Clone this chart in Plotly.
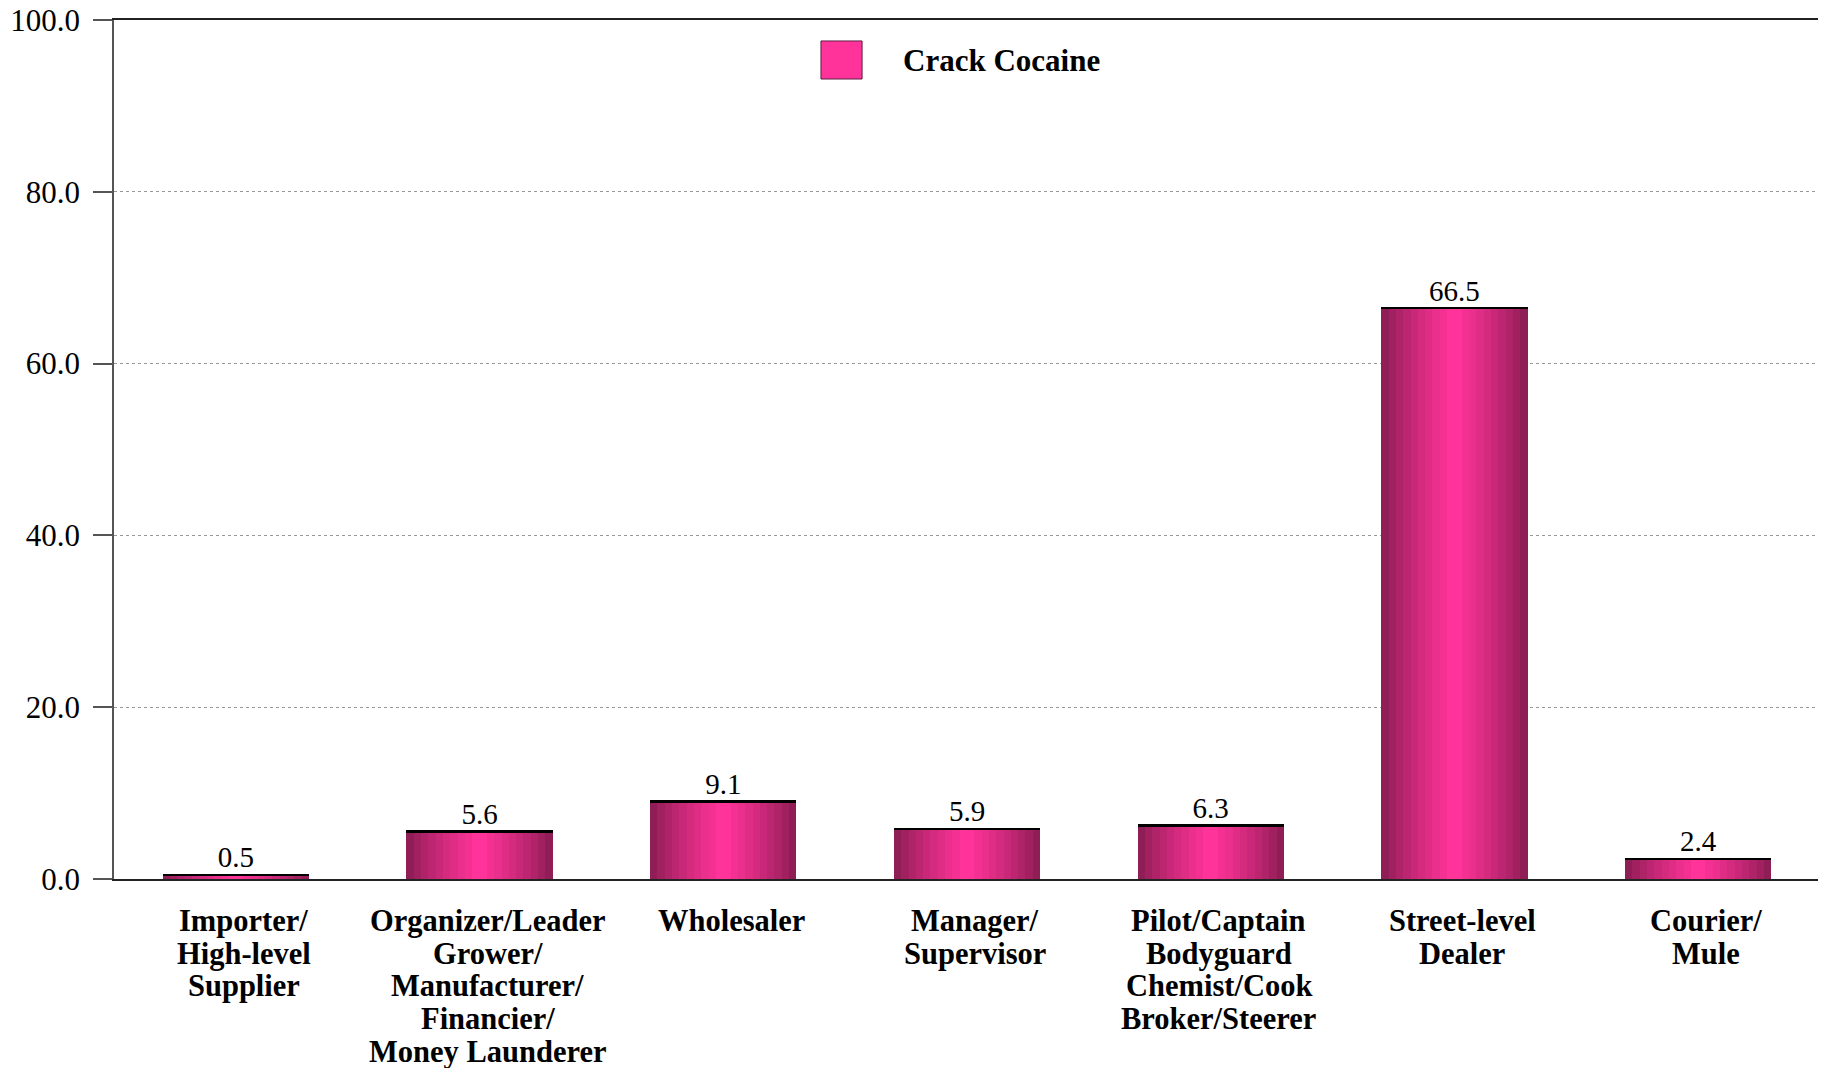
import plotly.graph_objects as go

categories = ["Importer/<br>High-level<br>Supplier",
              "Organizer/Leader<br>Grower/<br>Manufacturer/<br>Financier/<br>Money Launderer",
              "Wholesaler",
              "Manager/<br>Supervisor",
              "Pilot/Captain<br>Bodyguard<br>Chemist/Cook<br>Broker/Steerer",
              "Street-level<br>Dealer",
              "Courier/<br>Mule"]
values = [0.5, 5.6, 9.1, 5.9, 6.3, 66.5, 2.4]
series_name = "Crack Cocaine"
y_ticks = [0, 20, 40, 60, 80, 100]

xs = list(range(len(categories)))

fig = go.Figure()

# cylinder-like banded shading via overlaid bars
n_bands = 10
dark = (0x8E, 0x1E, 0x55)
bright = (0xFF, 0x33, 0x99)
full_w = 0.6
for i in range(n_bands):
    t = i / (n_bands - 1)
    t = t ** 0.8
    c = tuple(int(dark[k] + (bright[k] - dark[k]) * t) for k in range(3))
    w = full_w * (1 - i / n_bands)
    fig.add_trace(go.Bar(x=xs, y=values, width=w, marker=dict(color="rgb(%d,%d,%d)" % c, line=dict(width=0)),
                         showlegend=False, hoverinfo="skip"))

# black top edge
fig.add_trace(go.Bar(x=xs, y=[0.25] * len(values), base=[v - 0.2 for v in values], width=full_w,
                     marker=dict(color="black", line=dict(width=0)), showlegend=False, hoverinfo="skip"))

# value labels
fig.add_trace(go.Scatter(x=xs, y=values, mode="text", text=["%.1f" % v for v in values],
                         textposition="top center",
                         textfont=dict(family="Liberation Serif", size=29, color="black"),
                         showlegend=False, hoverinfo="skip"))

# category labels, one annotation per line for tight line spacing
for xi, cat in zip(xs, categories):
    for j, line in enumerate(cat.split("<br>")):
        fig.add_annotation(x=xi, y=0, xref="x", yref="paper", text="<b>%s</b>" % line,
                           showarrow=False, yanchor="top", xanchor="center",
                           yshift=-23 - 32.7 * j, xshift=8,
                           font=dict(family="Liberation Serif", size=30.5, color="black"))

# custom legend
fig.add_shape(type="rect", xref="paper", yref="paper", x0=0.4144, x1=0.4385, y0=0.9313, y1=0.9756,
              fillcolor="#FF3399", line=dict(color="#5a2040", width=1))
fig.add_annotation(x=0.4613, y=0.9523, xref="paper", yref="paper", text="<b>%s</b>" % series_name,
                   showarrow=False, xanchor="left", yanchor="middle",
                   font=dict(family="Liberation Serif", size=31, color="black"))

fig.update_layout(
    width=1818, height=1060,
    margin=dict(l=106, r=6, t=12, b=189, autoexpand=False),
    paper_bgcolor="white", plot_bgcolor="white",
    barmode="overlay", bargap=0,
    showlegend=False,
    xaxis=dict(range=[-0.5, len(categories) - 0.5], showticklabels=False, ticks="", automargin=False,
               showgrid=False, zeroline=False, showline=True, linecolor="#222", linewidth=1.5, mirror=True),
    yaxis=dict(range=[0, 100], tickvals=y_ticks, tickformat=".1f", ticks="outside", ticklen=19,
               tickcolor="#555", tickwidth=1.5, ticklabelstandoff=7, ticklabeloverflow="allow",
               automargin=False,
               tickfont=dict(family="Liberation Serif", size=31, color="black"),
               showgrid=True, gridcolor="#999", griddash="dot", gridwidth=1,
               zeroline=False, showline=True, linecolor="#555", linewidth=1.5, mirror=True),
)

fig.write_html("out.html")
